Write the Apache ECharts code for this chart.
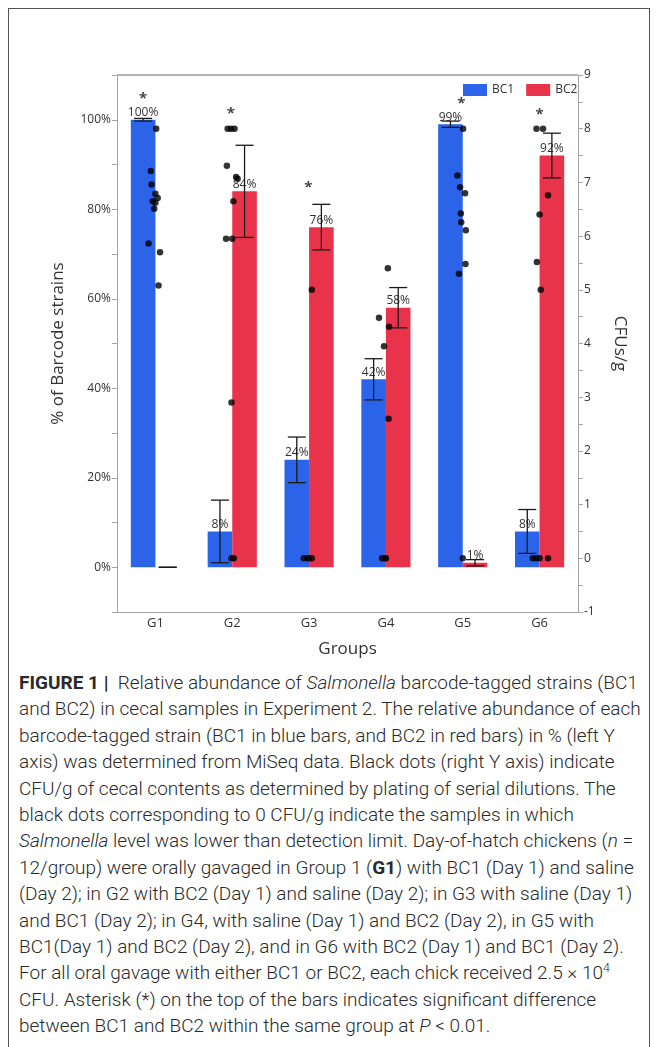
<!DOCTYPE html>
<html>
<head>
<meta charset="utf-8">
<script src="https://cdn.jsdelivr.net/npm/echarts@6.0.0/dist/echarts.min.js"></script>
<style>
  html, body { margin: 0; padding: 0; background: #fff; }
  body { width: 657px; height: 1047px; position: relative; overflow: hidden; }
  #frame { position: absolute; left: 8px; top: 8px; width: 640px; height: 1100px;
           border-left: 1px solid #555; border-top: 1px solid #555; border-right: 1px solid #555; }
  #chart { position: absolute; left: 0; top: 0; width: 657px; height: 665px; }
  #caption { position: absolute; left: 19px; top: 670px; width: 635px;
             font-family: Roboto, 'Liberation Sans', Arial, sans-serif; font-weight: 300; color: #2a2a2a;
             font-size: 16px; line-height: 26.4px; white-space: nowrap; }
  #caption b { font-weight: 700; }
  #caption div { height: 26.4px; }
  #caption sup { font-size: 0.65em; line-height: 0; vertical-align: 0.55em; }
</style>
</head>
<body>
<div id="frame"></div>
<div id="chart"></div>
<div id="caption">
  <div><b>FIGURE 1 |</b>&nbsp; Relative abundance of <i>Salmonella</i> barcode-tagged strains (BC1</div>
  <div id="refline">and BC2) in cecal samples in Experiment 2. The relative abundance of each</div>
  <div>barcode-tagged strain (BC1 in blue bars, and BC2 in red bars) in % (left Y</div>
  <div>axis) was determined from MiSeq data. Black dots (right Y axis) indicate</div>
  <div>CFU/g of cecal contents as determined by plating of serial dilutions. The</div>
  <div>black dots corresponding to 0 CFU/g indicate the samples in which</div>
  <div><i>Salmonella</i> level was lower than detection limit. Day-of-hatch chickens (<i>n</i> =</div>
  <div>12/group) were orally gavaged in Group 1 (<b>G1</b>) with BC1 (Day 1) and saline</div>
  <div>(Day 2); in G2 with BC2 (Day 1) and saline (Day 2); in G3 with saline (Day 1)</div>
  <div>and BC1 (Day 2); in G4, with saline (Day 1) and BC2 (Day 2), in G5 with</div>
  <div>BC1(Day 1) and BC2 (Day 2), and in G6 with BC2 (Day 1) and BC1 (Day 2).</div>
  <div>For all oral gavage with either BC1 or BC2, each chick received 2.5 × 10<sup>4</sup></div>
  <div>CFU. Asterisk (*) on the top of the bars indicates significant difference</div>
  <div>between BC1 and BC2 within the same group at <i>P</i> &lt; 0.01.</div>
</div>
<script>
// ---------------- data ----------------
const groups = ['G1', 'G2', 'G3', 'G4', 'G5', 'G6'];
const seriesNames = ['BC1', 'BC2'];
const bc1Pct = [100, 8, 24, 42, 99, 8];
const bc2Pct = [0, 84, 76, 58, 1, 92];
const bc1Err = [0.3, 7, 5.1, 4.6, 0.7, 4.9];
const bc2Err = [0, 10.3, 5.1, 4.5, 0.7, 5];
const leftLabelTicks = [0, 20, 40, 60, 80, 100];
const rightLabelTicks = [-1, 0, 1, 2, 3, 4, 5, 6, 7, 8, 9];
// individual birds: [horizontal offset within group (category units), CFU/g]
const g1Cfu = [[0.01, 8.0], [-0.06, 7.21], [-0.05, 6.96], [0.0, 6.79], [0.03, 6.71], [-0.035, 6.65],
               [0.0, 6.62], [-0.015, 6.51], [-0.09, 5.86], [0.06, 5.70], [0.04, 5.08]];
const g2Cfu = [[-0.06, 8.0], [-0.015, 8.0], [0.03, 8.0], [-0.07, 7.31], [0.07, 7.07], [0.05, 7.1],
               [0.015, 6.65], [-0.08, 5.95], [0.0, 5.95], [-0.01, 2.90], [-0.01, 0], [0.02, 0]];
const g3Cfu = [[0.035, 5.0], [-0.07, 0], [-0.02, 0], [0.035, 0], [0.0, 0]];
const g4Cfu = [[0.025, 5.40], [-0.09, 4.48], [0.04, 4.31], [-0.025, 3.95], [0.035, 2.60],
               [-0.05, 0], [-0.01, 0], [0.0, 0]];
const g5Cfu = [[0.005, 8.0], [-0.07, 7.13], [-0.035, 6.91], [0.03, 6.80], [-0.025, 6.42], [-0.02, 6.26],
               [0.04, 6.11], [0.035, 5.48], [-0.05, 5.30], [0.0, 0]];
const g6Cfu = [[-0.04, 8.0], [0.045, 8.0], [0.11, 6.76], [0.0, 6.40], [-0.035, 5.52], [0.015, 5.00],
               [-0.09, 0], [-0.045, 0], [0.0, 0], [0.11, 0]];
// significance asterisks: group index, offset, height on % axis
const starGroups = [0, 1, 2, 4, 5];
const starOffsets = [-0.16, -0.02, -0.01, -0.02, 0.0];
const starHeights = [105.6, 102.3, 85.7, 104.5, 102.1];
const leftAxisMax = 110;

// ---------------- chart ----------------
const BLUE = '#2b64e9';
const RED = '#e8334a';
const AXIS = '#a4a4a4';
const FONT = "'Open Sans', 'Noto Sans', sans-serif";

const allCfu = [g1Cfu, g2Cfu, g3Cfu, g4Cfu, g5Cfu, g6Cfu];
const dotData = [];
allCfu.forEach((arr, gi) => arr.forEach(d => dotData.push([gi + d[0], d[1]])));
const starData = starGroups.map((g, i) => [g + starOffsets[i], starHeights[i]]);

function errSeries(name, means, errs, side) {
  return {
    type: 'custom', name: name + ' err', xAxisIndex: 0, yAxisIndex: 0, z: 6,
    data: means.map((m, i) => [i, m, errs[i]]),
    encode: { x: 0, y: 1 },
    renderItem: function (params, api) {
      const i = api.value(0), m = api.value(1), e = api.value(2);
      const band = api.size([1, 0])[0];
      const x = api.coord([i, m])[0] + side * band * 0.16;
      const yt = api.coord([i, m + e])[1];
      const yb = api.coord([i, m - e])[1];
      const hw = 9;
      const st = { stroke: '#1a1a1a', lineWidth: 1.3 };
      return { type: 'group', children: [
        { type: 'line', shape: { x1: x, y1: yt, x2: x, y2: yb }, style: st },
        { type: 'line', shape: { x1: x - hw, y1: yt, x2: x + hw, y2: yt }, style: st },
        { type: 'line', shape: { x1: x - hw, y1: yb, x2: x + hw, y2: yb }, style: st }
      ]};
    }
  };
}

const barLabel = {
  show: true, position: 'top', distance: 1, fontSize: 12, color: '#333', fontFamily: FONT,
  formatter: p => (p.value > 0 ? p.value + '%' : '')
};

const chart = echarts.init(document.getElementById('chart'), null, { renderer: 'canvas' });
chart.setOption({
  animation: false,
  backgroundColor: 'transparent',
  textStyle: { fontFamily: FONT },
  grid: { left: 117, right: 79, top: 75, height: 537, containLabel: false },
  legend: {
    data: seriesNames, left: 458, top: 79, itemWidth: 24, itemHeight: 12, itemGap: 12,
    icon: 'rect', textStyle: { fontSize: 12, color: '#333', fontFamily: FONT }
  },
  xAxis: [
    {
      type: 'category', data: groups, position: 'bottom',
      axisLine: { onZero: false, lineStyle: { color: AXIS, width: 1 } },
      axisTick: { show: false },
      axisLabel: { fontSize: 13, color: '#333', margin: 5 },
      name: 'Groups', nameLocation: 'middle', nameGap: 29,
      nameTextStyle: { fontSize: 17, color: '#333' }
    },
    {
      type: 'value', min: -0.5, max: 5.5, position: 'top', show: false
    }
  ],
  yAxis: [
    {
      type: 'value', min: -10, max: leftAxisMax, interval: 10, position: 'left',
      axisLine: { show: true, onZero: false, lineStyle: { color: AXIS } },
      axisTick: { show: true, length: 5, lineStyle: { color: AXIS } },
      splitLine: { show: false },
      axisLabel: {
        fontSize: 12, color: '#333', margin: 6,
        formatter: v => (leftLabelTicks.indexOf(v) >= 0 ? v + '%' : '')
      },
      name: '% of Barcode strains', nameLocation: 'middle', nameGap: 50,
      nameTextStyle: { fontSize: 17, color: '#333' }
    },
    {
      type: 'value', min: -1, max: 9, interval: 0.5, position: 'right',
      axisLine: { show: true, onZero: false, lineStyle: { color: AXIS } },
      axisTick: { show: true, length: 5, lineStyle: { color: AXIS } },
      splitLine: { show: false },
      axisLabel: {
        fontSize: 12, color: '#333', margin: 6,
        formatter: v => (rightLabelTicks.indexOf(v) >= 0 ? String(v) : '')
      },
      name: 'CFUs/g', nameLocation: 'middle', nameGap: 33, nameRotate: -90,
      nameTextStyle: { fontSize: 17, color: '#333' }
    }
  ],
  series: [
    { type: 'bar', name: 'BC1', data: bc1Pct, xAxisIndex: 0, yAxisIndex: 0,
      barWidth: '32%', barGap: '0%', itemStyle: { color: BLUE }, label: barLabel, z: 2,
      markLine: {
        silent: true, symbol: ['none', 'none'], label: { show: false },
        lineStyle: { color: '#b4b4b4', type: 'solid', width: 2 },
        data: [{ yAxis: leftAxisMax }]
      } },
    { type: 'bar', name: 'BC2', data: bc2Pct, xAxisIndex: 0, yAxisIndex: 0,
      barWidth: '32%', barGap: '0%', itemStyle: { color: RED }, label: barLabel, z: 2 },
    errSeries('BC1', bc1Pct, bc1Err, -1),
    errSeries('BC2', bc2Pct, bc2Err, 1),
    { type: 'scatter', name: 'CFU', xAxisIndex: 1, yAxisIndex: 1, data: dotData, z: 10,
      symbol: 'circle', symbolSize: 6.5, itemStyle: { color: '#000' } },
    { type: 'scatter', name: 'sig', xAxisIndex: 1, yAxisIndex: 0, data: starData, z: 11,
      symbolSize: 1, itemStyle: { color: 'rgba(0,0,0,0)' },
      label: { show: true, position: 'inside', formatter: '*', fontSize: 15, fontWeight: 'bold',
               color: '#111', offset: [0, 4] } }
  ]
});

// fit caption font so a full line matches reference width
(function fitCaption() {
  const ref = document.getElementById('refline');
  const span = document.createElement('span');
  span.innerHTML = ref.innerHTML;
  ref.innerHTML = '';
  ref.appendChild(span);
  const w = span.getBoundingClientRect().width;
  const target = 622;
  const fs = 16 * target / w;
  document.getElementById('caption').style.fontSize = fs.toFixed(2) + 'px';
})();
</script>
</body>
</html>
